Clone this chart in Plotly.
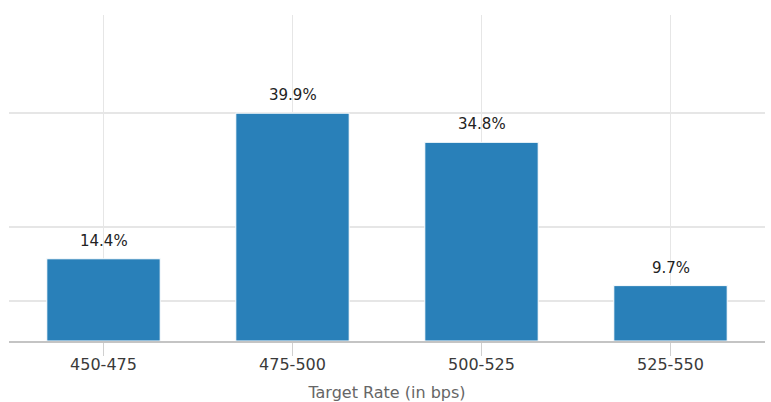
import plotly.graph_objects as go

categories = ["450-475", "475-500", "500-525", "525-550"]
probabilities = [14.4, 39.9, 34.8, 9.7]
labels = [f"{v:.1f}%" for v in probabilities]
grid_values = [7, 20, 40]

FONT = "DejaVu Sans, sans-serif"

fig = go.Figure()
fig.add_trace(go.Bar(
    x=categories,
    y=probabilities,
    marker=dict(color="#2980b9", line=dict(color="#ffffff", width=1)),
    hoverinfo="skip",
))

for c, v, t in zip(categories, probabilities, labels):
    fig.add_annotation(x=c, y=v, text=t, showarrow=False, yanchor="bottom",
                       yshift=7, font=dict(family=FONT, size=15, color="#222222"))

fig.update_layout(
    width=771, height=402,
    margin=dict(l=9, r=6, t=15, b=61),
    paper_bgcolor="white", plot_bgcolor="white",
    bargap=0.4,
    showlegend=False,
    xaxis=dict(
        automargin=False,
        showgrid=True, gridcolor="#e6e6e6", gridwidth=1,
        showline=True, linecolor="#c4c4c4", linewidth=1.5,
        ticks="outside", ticklen=13, tickcolor="#d0d0d0",
        ticklabelstandoff=-5,
        tickfont=dict(family=FONT, size=16, color="#3a3a3a"),
        title=dict(text="Target Rate (in bps)", standoff=16,
                   font=dict(family=FONT, size=16, color="#666666")),
    ),
    yaxis=dict(
        automargin=False,
        range=[0, 57.1], tickvals=grid_values, showticklabels=False,
        showgrid=True, gridcolor="#e6e6e6", gridwidth=1.5, zeroline=False,
    ),
)

fig.write_html("out.html")
